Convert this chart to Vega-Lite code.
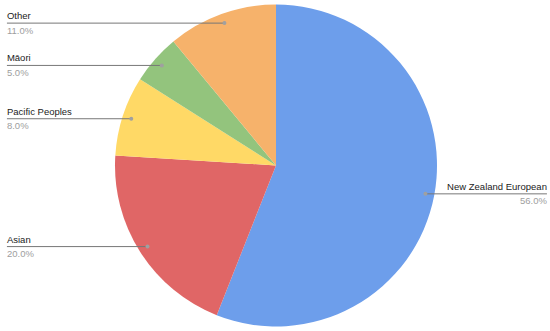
{
  "$schema": "https://vega.github.io/schema/vega-lite/v6.json",
  "width": 550,
  "height": 331,
  "padding": 0,
  "autosize": {"type": "none"},
  "background": "white",
  "config": {"view": {"stroke": null}, "font": "Liberation Sans"},
  "data": {"values": [
    {"group": "New Zealand European", "share": 56},
    {"group": "Asian", "share": 20},
    {"group": "Pacific Peoples", "share": 8},
    {"group": "Māori", "share": 5},
    {"group": "Other", "share": 11}
  ]},
  "transform": [
    {"window": [{"op": "row_number", "as": "rank"}]},
    {"window": [{"op": "sum", "field": "share", "as": "cum"}], "sort": [{"field": "rank"}], "frame": [null, 0]},
    {"calculate": "2*PI*(datum.cum - datum.share/2)/100", "as": "mid"},
    {"calculate": "0.945*sin(datum.mid)", "as": "px"},
    {"calculate": "0.94*cos(datum.mid)", "as": "py"},
    {"calculate": "datum.px < 0 ? -1.671 : 1.683", "as": "lx"},
    {"calculate": "format(datum.share, '.1f') + '%'", "as": "pct"}
  ],
  "layer": [
    {
      "mark": {"type": "arc", "outerRadius": 161, "x": 276, "y": 165.5},
      "encoding": {
        "theta": {"field": "share", "type": "quantitative", "stack": true},
        "order": {"field": "rank", "type": "quantitative"},
        "color": {
          "field": "group", "type": "nominal", "legend": null,
          "scale": {
            "domain": ["New Zealand European", "Asian", "Pacific Peoples", "Māori", "Other"],
            "range": ["#6d9eeb", "#e06666", "#ffd966", "#93c47d", "#f6b26b"]
          }
        }
      }
    },
    {
      "mark": {"type": "rule", "color": "#777777", "strokeWidth": 1},
      "encoding": {
        "x": {"field": "px", "type": "quantitative", "scale": {"domain": [-1.714, 1.702], "nice": false, "zero": false}, "axis": null},
        "x2": {"field": "lx"},
        "y": {"field": "py", "type": "quantitative", "scale": {"domain": [-1.028, 1.028], "nice": false, "zero": false}, "axis": null}
      }
    },
    {
      "mark": {"type": "point", "filled": true, "size": 16, "color": "#a0a0a0", "opacity": 1},
      "encoding": {
        "x": {"field": "px", "type": "quantitative"},
        "y": {"field": "py", "type": "quantitative"}
      }
    },
    {
      "transform": [{"filter": "datum.px < 0"}],
      "mark": {"type": "text", "align": "left", "baseline": "alphabetic", "dy": -4, "fontSize": 9.5, "color": "#222222"},
      "encoding": {
        "x": {"field": "lx", "type": "quantitative"},
        "y": {"field": "py", "type": "quantitative"},
        "text": {"field": "group"}
      }
    },
    {
      "transform": [{"filter": "datum.px < 0"}],
      "mark": {"type": "text", "align": "left", "baseline": "alphabetic", "dy": 10.5, "fontSize": 9.5, "color": "#9e9e9e"},
      "encoding": {
        "x": {"field": "lx", "type": "quantitative"},
        "y": {"field": "py", "type": "quantitative"},
        "text": {"field": "pct"}
      }
    },
    {
      "transform": [{"filter": "datum.px >= 0"}],
      "mark": {"type": "text", "align": "right", "baseline": "alphabetic", "dy": -4, "fontSize": 9.5, "color": "#222222"},
      "encoding": {
        "x": {"field": "lx", "type": "quantitative"},
        "y": {"field": "py", "type": "quantitative"},
        "text": {"field": "group"}
      }
    },
    {
      "transform": [{"filter": "datum.px >= 0"}],
      "mark": {"type": "text", "align": "right", "baseline": "alphabetic", "dy": 10.5, "fontSize": 9.5, "color": "#9e9e9e"},
      "encoding": {
        "x": {"field": "lx", "type": "quantitative"},
        "y": {"field": "py", "type": "quantitative"},
        "text": {"field": "pct"}
      }
    }
  ]
}
